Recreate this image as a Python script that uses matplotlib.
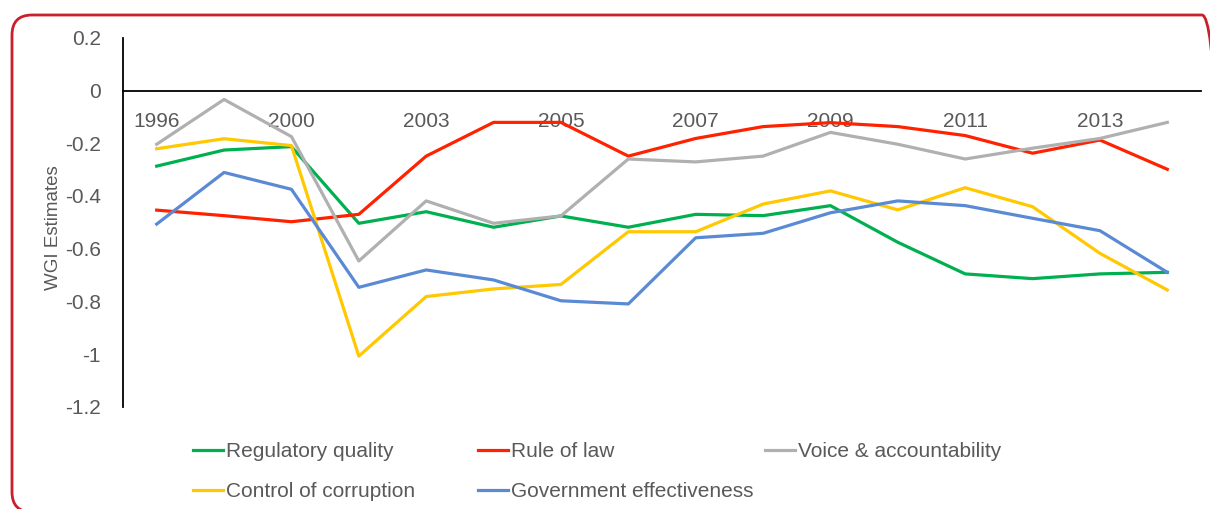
import matplotlib.pyplot as plt
from matplotlib.patches import FancyBboxPatch

plt.rcParams['font.family'] = ['Liberation Sans', 'DejaVu Sans']

years = ['1996', '1998', '2000', '2002', '2003', '2004', '2005', '2006',
         '2007', '2008', '2009', '2010', '2011', '2012', '2013', '2014']

regulatory_quality = [-0.287, -0.226, -0.213, -0.504, -0.460, -0.519, -0.476, -0.519,
                      -0.470, -0.475, -0.437, -0.576, -0.696, -0.714, -0.696, -0.690]
rule_of_law = [-0.454, -0.475, -0.498, -0.470, -0.249, -0.121, -0.121, -0.249,
               -0.182, -0.137, -0.122, -0.137, -0.171, -0.238, -0.188, -0.299]
voice_accountability = [-0.204, -0.034, -0.175, -0.647, -0.419, -0.504, -0.476, -0.260,
                        -0.271, -0.249, -0.159, -0.204, -0.260, -0.219, -0.182, -0.121]
control_corruption = [-0.221, -0.183, -0.209, -1.008, -0.782, -0.753, -0.736, -0.536,
                      -0.536, -0.431, -0.381, -0.453, -0.369, -0.441, -0.618, -0.757]
govt_effectiveness = [-0.507, -0.311, -0.375, -0.747, -0.681, -0.719, -0.798, -0.810,
                      -0.559, -0.542, -0.464, -0.419, -0.437, -0.485, -0.532, -0.690]

series = [
    ('Regulatory quality', regulatory_quality, '#00B050'),
    ('Rule of law', rule_of_law, '#FF2200'),
    ('Voice & accountability', voice_accountability, '#B0B0B0'),
    ('Control of corruption', control_corruption, '#FFC800'),
    ('Government effectiveness', govt_effectiveness, '#5A8AD3'),
]

text_color = '#595959'
W, H = 1210, 509

fig = plt.figure(figsize=(W / 100, H / 100), dpi=100, facecolor='white')
ax = fig.add_axes([123 / W, 1 - 406.7 / H, (1201 - 123) / W, (406.7 - 37.8) / H])

x = list(range(len(years)))
handles = {}
for name, vals, col in series:
    line, = ax.plot(x, vals, color=col, linewidth=2.3, label=name)
    handles[name] = line

ax.set_xlim(-0.5, 15.5)
ax.set_ylim(-1.2, 0.2)
ax.set_yticks([0.2, 0, -0.2, -0.4, -0.6, -0.8, -1, -1.2])
ax.set_yticklabels(['0.2', '0', '-0.2', '-0.4', '-0.6', '-0.8', '-1', '-1.2'])
ax.set_xticks(x[::2])
ax.set_xticklabels(years[::2])

ax.spines['top'].set_visible(False)
ax.spines['right'].set_visible(False)
ax.spines['bottom'].set_position(('data', 0))
for side in ('bottom', 'left'):
    ax.spines[side].set_color('black')
    ax.spines[side].set_linewidth(1.3)
ax.patch.set_alpha(0)

ax.tick_params(axis='both', length=0, labelsize=15, labelcolor=text_color)
ax.tick_params(axis='y', pad=16)
ax.tick_params(axis='x', pad=15.5)
ax.set_ylabel('WGI Estimates', fontsize=13.5, color=text_color)
ax.yaxis.set_label_coords(62 / W, 1 - 228 / H, transform=fig.transFigure)

# legend laid out as three separate columns
columns = [
    (193, ['Regulatory quality', 'Control of corruption']),
    (478, ['Rule of law', 'Government effectiveness']),
    (765, ['Voice & accountability']),
]
for px, names in columns:
    leg = fig.legend(handles=[handles[n] for n in names], labels=names,
                     loc='upper left', bbox_to_anchor=(px / W, 1 - 442 / H),
                     frameon=False, fontsize=15, handlelength=1.45,
                     handletextpad=0.15, borderpad=0, borderaxespad=0,
                     labelspacing=1.0)
    for t in leg.get_texts():
        t.set_color(text_color)

# rounded red frame around the chart (inches, so the corners stay round)
frame = FancyBboxPatch((0.12, -0.03), 12.1, 4.97,
                       boxstyle='round,pad=0,rounding_size=0.2',
                       transform=fig.dpi_scale_trans, facecolor='none',
                       edgecolor='#C8202C', linewidth=2, clip_on=False)
fig.patches.append(frame)

fig.savefig('out.png', dpi=100)
